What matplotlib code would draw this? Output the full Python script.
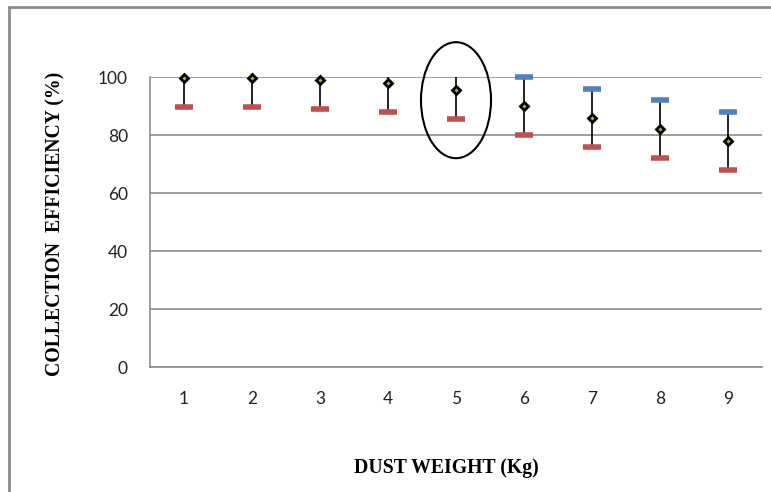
import numpy as np
import matplotlib
matplotlib.use("Agg")
import matplotlib.pyplot as plt
from matplotlib.patches import Ellipse, Rectangle

weights = [1, 2, 3, 4, 5, 6, 7, 8, 9]
high = [109.5, 109.5, 108.8, 108, 105.5, 100, 96, 92, 88]
low = [89.5, 89.5, 88.8, 88, 85.5, 80, 76, 72, 68]
close = [99.5, 99.5, 98.8, 98, 95.5, 90, 86, 82, 78]
yticks = [0, 20, 40, 60, 80, 100]

fig = plt.figure(figsize=(7.71, 4.92), dpi=100)
ax = fig.add_axes([150/771, 1-367/492, 612/771, 290/492])

x = np.array(weights)
hi = np.array(high)
lo = np.array(low)
cl = np.array(close)

ax.vlines(x, lo, hi, color='black', lw=1.2, zorder=3)
hi_vis = np.where(hi <= 100, hi, np.nan)
ax.plot(x, hi_vis, ls='none', marker='_', ms=13, mew=4, color='#4f81bd', zorder=4, clip_on=False)
ax.plot(x, lo, ls='none', marker='_', ms=13, mew=4, color='#c0504d', zorder=4, clip_on=False)
ax.plot(x, cl, ls='none', marker='D', ms=4.5, mfc='#9bbb59', mec='black', mew=2, zorder=5, clip_on=False)

ax.set_xlim(0.5, 9.5)
ax.set_ylim(0, 100)
ax.set_yticks(yticks)
ax.set_xticks(weights)
ax.yaxis.grid(True, color='#8c8c8c', lw=1.2)
ax.set_axisbelow(True)
for s in ['top', 'right']:
    ax.spines[s].set_visible(False)
for s in ['left', 'bottom']:
    ax.spines[s].set_color('#8c8c8c')
    ax.spines[s].set_linewidth(1.2)
ax.tick_params(axis='both', length=0, labelsize=12.5, labelcolor='#222222')
ax.tick_params(axis='y', pad=16)
ax.tick_params(axis='x', pad=17)
for lab in ax.get_xticklabels() + ax.get_yticklabels():
    lab.set_fontfamily('Lato')

ell = Ellipse((5, 92), width=1.03, height=40, fill=False, ec='black', lw=1.5, clip_on=False, zorder=6)
ax.add_patch(ell)

fig.text(446/771, 1-468/492, 'DUST WEIGHT (Kg)', ha='center', va='center',
         fontfamily='Liberation Serif', fontweight='bold', fontsize=14.2)
fig.text(55/771, 1-224/492, 'COLLECTION  EFFICIENCY (%)', ha='center', va='center', rotation=90,
         fontfamily='Liberation Serif', fontweight='bold', fontsize=14.2)

border = Rectangle((9/771, -0.1), 1.2, 1-7/492+0.1, transform=fig.transFigure,
                   fill=False, ec='#8c8c8c', lw=2)
fig.patches.append(border)

fig.savefig('out.png', dpi=100)
